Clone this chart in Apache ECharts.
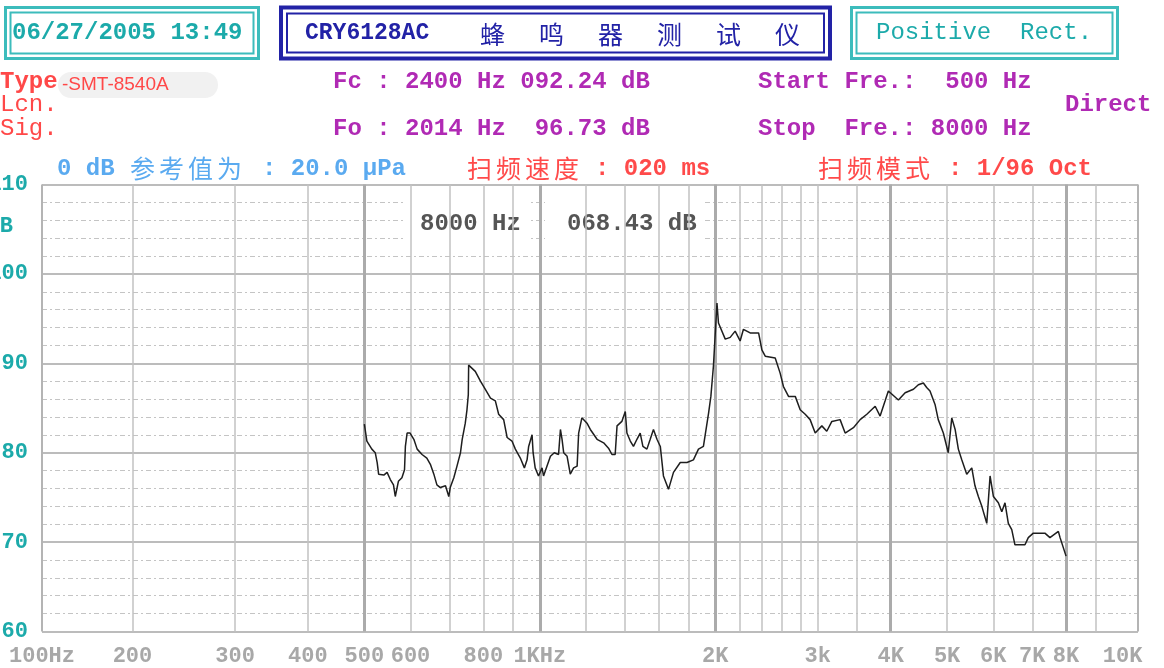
<!DOCTYPE html>
<html><head><meta charset="utf-8">
<script src="https://cdn.jsdelivr.net/npm/echarts@6/dist/echarts.min.js"></script>
<style>html,body{margin:0;padding:0;background:#fff;}#c{width:1164px;height:668px;}</style>
</head><body><div id="c"></div>
<script>
// ---- data ----
const freqHz = [500,505,515,522,526,529,540,547,554,561,565,572,580,586,588,592,599,608,616,628,640,649,658,666,675,689,698,702,712,721,731,736,745,750,754,755,775,791,806,823,839,850,867,879,896,908,926,941,951,957,970,974,982,995,1009,1015,1029,1043,1059,1077,1085,1092,1099,1114,1128,1143,1159,1166,1181,1205,1221,1254,1287,1312,1330,1347,1357,1383,1402,1411,1430,1448,1468,1487,1503,1527,1547,1567,1589,1610,1630,1663,1696,1742,1789,1835,1872,1909,1948,1966,1986,2014,2026,2081,2122,2164,2207,2236,2296,2374,2405,2437,2535,2585,2619,2672,2744,2798,2854,2910,2969,3048,3108,3171,3276,3342,3453,3546,3641,3763,3837,3914,3964,4125,4236,4377,4463,4552,4612,4673,4767,4828,4926,5023,5093,5161,5227,5298,5403,5512,5582,5657,5735,5848,5925,6004,6122,6206,6285,6368,6455,6537,6801,6891,7029,7358,7506,7760,7813,8000];
const levelDb = [83.2,81.3,80.4,80.0,78.9,77.6,77.5,77.8,77.0,76.4,75.1,76.8,77.2,78.1,80.7,82.2,82.2,81.5,80.4,79.8,79.4,78.7,77.6,76.4,76.1,76.3,75.1,76.1,77.2,78.5,80.0,81.5,83.3,84.8,86.5,89.8,89.1,88.0,87.1,86.1,85.8,84.3,83.7,81.7,81.3,80.4,79.4,78.3,79.2,80.7,82.0,80.0,78.3,77.4,78.3,77.4,78.5,79.6,80.0,79.8,82.6,81.5,80.0,79.6,77.6,78.3,78.5,82.2,83.9,83.3,82.6,81.5,81.1,80.5,79.8,79.8,83.0,83.5,84.6,82.2,81.3,80.7,81.5,82.2,80.7,80.4,81.5,82.6,81.5,80.7,77.4,75.9,77.8,78.9,78.9,79.2,80.4,80.7,84.4,86.3,89.7,96.73,94.5,92.7,92.9,93.6,92.5,93.8,93.4,93.4,91.5,90.8,90.6,88.9,87.4,86.3,86.3,84.8,84.3,83.7,82.2,83.0,82.4,83.5,83.7,82.2,82.8,83.7,84.3,85.2,84.1,85.8,86.9,85.9,86.7,87.1,87.6,87.8,87.3,86.9,85.4,83.7,82.2,80.0,83.9,82.6,80.4,79.2,77.6,78.3,76.3,75.1,74.0,72.1,77.4,75.1,74.4,73.4,74.4,72.1,71.4,69.7,69.7,70.5,71.0,71.0,70.5,71.2,70.5,68.43];

const fMin = 139.9, fMax = 10630;
const xTickFreqs  = [fMin, 200, 300, 400, 500, 600, 800, 1000, 2000, 3000, 4000, 5000, 6000, 7000, 8000, 10000];
const xTickLabels = ['100Hz','200','300','400','500','600','800','1KHz','2K','3k','4K','5K','6K','7K','8K','10K'];
const gridThinFreqs  = [200,300,400,600,700,800,900,1200,1400,1600,1800,2200,2400,2600,2800,3000,3500,5000,6000,7000,9000];
const gridThickFreqs = [500,1000,2000,4000,8000];
const gridBorderFreqs = [fMin, fMax];
const yMin = 60, yMax = 110, yStep = 10;

// ---- helpers ----
const MONO = '"Liberation Mono", "DejaVu Sans Mono", monospace';
const CJK = '"Noto Sans CJK SC", sans-serif';
function t(x, y, s, fill, size, opts) {
  opts = opts || {};
  return {type:'text', x:x, y:y, z: opts.z || 20, scaleX: opts.sx || 1,
    style:{text:s, fill:fill, font:(opts.weight||'bold')+' '+size+'px '+(opts.family||MONO),
      textAlign: opts.align||'left', textVerticalAlign:'middle',
      backgroundColor: opts.bg, padding: opts.pad}};
}
function spaced(chars, x0, step, y, fill, size, weight) {
  return chars.split('').map((c,i)=>t(x0+i*step, y, c, fill, size, {family:CJK, weight:weight||'normal'}));
}
function box(x, y, w, h, color, outerW, innerW, gap) {
  return [
    {type:'rect', z:20, shape:{x:x, y:y, width:w, height:h}, style:{fill:'none', stroke:color, lineWidth:outerW}},
    {type:'rect', z:20, shape:{x:x+gap, y:y+gap, width:w-2*gap, height:h-2*gap}, style:{fill:'none', stroke:color, lineWidth:innerW}}
  ];
}
function labelFor(v) {
  let bi = 0, bd = Infinity;
  xTickFreqs.forEach((f,i)=>{ const d = Math.abs(Math.log(v/f)); if (d < bd) {bd = d; bi = i;} });
  return xTickLabels[bi];
}

const teal = '#1caaaa', navy = '#2222a6', purple = '#b02ab4', red = '#ff4848', blue = '#5aaaf0', red2 = '#ff4a4a';

const graphics = [].concat(
  box(5.5, 7.5, 253, 51, '#3cbcbc', 3, 2, 5),
  box(281, 7.5, 549, 51, navy, 4, 2, 6),
  box(851.5, 7.5, 266, 51, '#3cbcbc', 3, 2, 5),
  [
    t(12, 33, '06/27/2005 13:49', teal, 24),
    t(305, 33, 'CRY6128AC', navy, 23),
    t(876, 33, 'Positive  Rect.', teal, 24, {weight:'normal'}),
    {type:'rect', z:15, shape:{x:58, y:72, width:160, height:26, r:13}, style:{fill:'#f1f1f1'}},
    t(0, 82, 'Type', red, 24),
    t(62, 85, '-SMT-8540A', red, 19, {family:'"Liberation Sans", Arial, sans-serif', weight:'normal'}),
    t(0, 105, 'Lcn.', red, 24, {weight:'normal'}),
    t(0, 129, 'Sig.', red, 24, {weight:'normal'}),
    t(333, 82, 'Fc : 2400 Hz 092.24 dB', purple, 24),
    t(333, 129, 'Fo : 2014 Hz  96.73 dB', purple, 24),
    t(758, 82, 'Start Fre.:  500 Hz', purple, 24),
    t(758, 129, 'Stop  Fre.: 8000 Hz', purple, 24),
    t(1065, 105, 'Direct', purple, 24),
    t(57, 169, '0 dB', blue, 24),
    t(262, 169, ': 20.0 \u03bcPa', blue, 24),
    t(595, 169, ': 020 ms', red2, 24),
    t(948, 169, ': 1/96 Oct', red2, 24),
    t(13, 226, 'dB', teal, 22, {align:'right'}),
    t(405, 224, '8000 Hz', '#555', 24, {z:3, bg:'#fff', pad:[13,10,13,15]}),
    t(545, 224, '068.43 dB', '#555', 24, {z:3, bg:'#fff', pad:[13,6,13,22]})
  ],
  spaced('蜂鸣器测试仪', 480, 59, 34, navy, 25, 'normal'),
  spaced('参考值为', 130, 29, 168, blue, 25),
  spaced('扫频速度', 467, 29, 168, red2, 25),
  spaced('扫频模式', 818, 29, 168, red2, 25)
);

const chart = echarts.init(document.getElementById('c'), null, {renderer:'canvas'});
chart.setOption({
  animation:false,
  backgroundColor:'#fff',
  grid:{left:42, right:26, top:184.5, bottom:36.5, containLabel:false, outerBoundsMode:'none'},
  xAxis:{type:'log', logBase:10, min:fMin, max:fMax,
    axisLine:{show:false}, axisTick:{show:false}, splitLine:{show:false},
    axisLabel:{customValues:xTickFreqs, formatter:labelFor, hideOverlap:false, interval:0,
      color:'#a8a8a8', fontFamily:'Liberation Mono', fontWeight:'bold', fontSize:22, margin:14,
      showMinLabel:true, showMaxLabel:true}},
  yAxis:{type:'value', min:yMin, max:yMax, interval:yStep,
    axisLine:{show:false}, axisTick:{show:false},
    splitLine:{lineStyle:{color:'#bcbcbc', width:2}},
    minorTick:{show:false, splitNumber:5},
    minorSplitLine:{show:true, lineStyle:{color:'#c4c4c4', width:1, type:[5,3,2,3]}},
    axisLabel:{color:teal, fontFamily:'Liberation Mono', fontWeight:'bold', fontSize:22, margin:14,
      formatter:v=>String(v)}},
  graphic:{elements:graphics},
  series:[
    {type:'line', data:[], z:1, silent:true,
      markLine:{silent:true, symbol:'none', animation:false, label:{show:false},
        lineStyle:{color:'#c2c2c2', width:1.5, type:'solid'},
        data:gridThinFreqs.map(f=>({xAxis:f}))}},
    {type:'line', data:[], z:4, silent:true,
      markLine:{silent:true, symbol:'none', animation:false, label:{show:false},
        lineStyle:{color:'#ababab', width:3, type:'solid'},
        data:gridThickFreqs.map(f=>({xAxis:f})).concat(gridBorderFreqs.map(f=>({xAxis:f, lineStyle:{width:2, color:'#b4b4b4'}})))}},
    {type:'line', z:10, showSymbol:false, silent:true,
      lineStyle:{color:'#1e1e1e', width:1.5},
      data:freqHz.map((f,i)=>[f, levelDb[i]])}
  ]
});
</script></body></html>
